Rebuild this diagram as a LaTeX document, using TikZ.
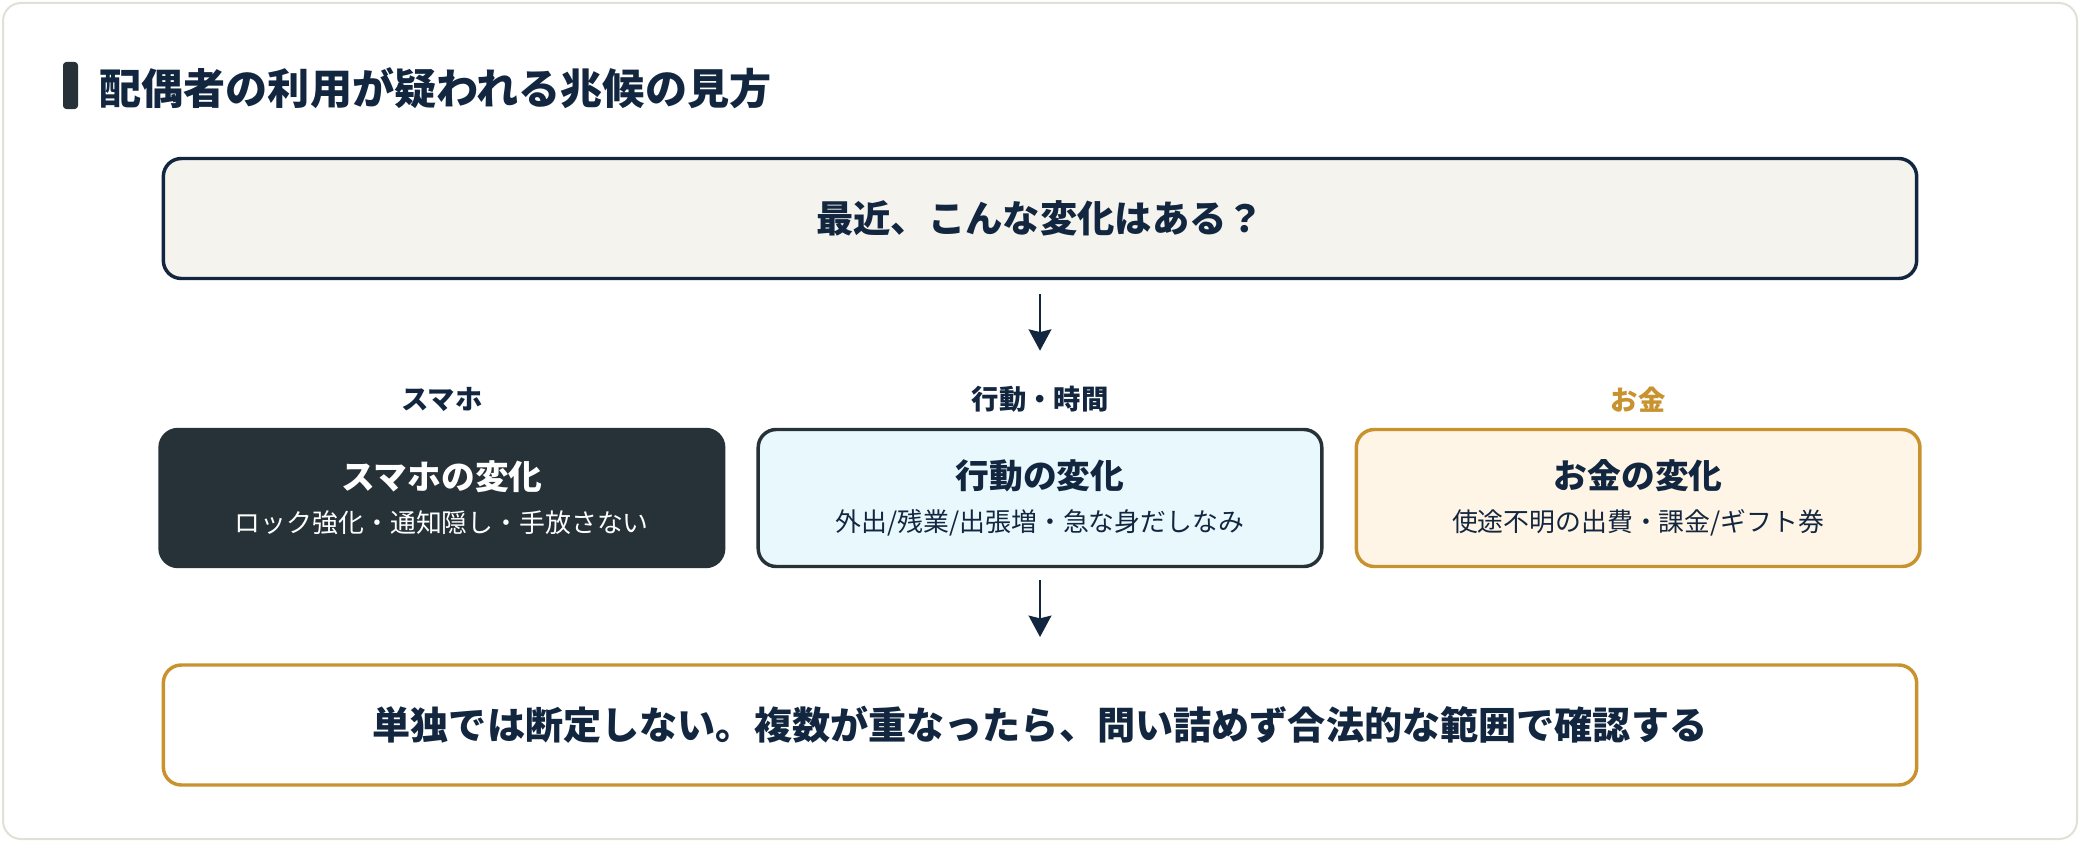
\documentclass[tikz,border=0pt]{standalone}
\usepackage{fontspec}
\setmainfont{Noto Sans CJK JP}
\usetikzlibrary{arrows.meta,positioning}

\definecolor{inkNavy}{HTML}{12263F}
\definecolor{slate}{HTML}{263238}
\definecolor{skyFill}{HTML}{E9F8FD}
\definecolor{creamFill}{HTML}{FFF5E6}
\definecolor{gold}{HTML}{C8922F}
\definecolor{paperFill}{HTML}{F5F3EE}
\definecolor{frameLine}{HTML}{E2E0D5}

\begin{document}
\begin{tikzpicture}[x=0.75pt,y=-0.75pt,>={Stealth[length=16pt,width=17pt,inset=2pt]},
                    semithick]
  \tikzstyle{card}=[rounded corners=13.5pt,line width=2.6pt,minimum width=1315pt,
                    minimum height=90pt,text=inkNavy,font=\fontsize{28pt}{33pt}\selectfont\bfseries]
  \tikzstyle{pane}=[rounded corners=13.5pt,line width=2.6pt,minimum width=422.7pt,
                    minimum height=102.75pt,align=center,text=inkNavy,
                    font=\fontsize{25.3pt}{30pt}\selectfont\bfseries]
  \tikzstyle{tag}=[inner sep=0pt,text=inkNavy,font=\fontsize{20.5pt}{24pt}\selectfont\bfseries]
  \tikzstyle{flow}=[->,line width=1.9pt,draw=inkNavy]

  \useasboundingbox (0,0) rectangle (2080,842);
  \draw[frameLine,fill=white,line width=1.5pt,rounded corners=13.5pt] (3,3) rectangle (2077,839);

  % heading
  \fill[slate,rounded corners=2.5pt] (63,62) rectangle (78,109);
  \node[anchor=west,inner sep=0pt,text=inkNavy,font=\fontsize{31.6pt}{38pt}\selectfont\bfseries]
       (heading) at (99,88) {配偶者の利用が疑われる兆候の見方};

  \node[card,fill=paperFill,draw=inkNavy] (ask) at (1040,218.5) {最近、こんな変化はある？};

  \node[pane,fill=skyFill,draw=slate] (act) at (1040,498)
       {行動の変化\\[2pt]{\fontsize{19.4pt}{24pt}\selectfont\mdseries 外出/残業/出張増・急な身だしなみ}};
  \node[pane,fill=slate,draw=slate,text=white,left=23.3pt of act] (phone)
       {スマホの変化\\[2pt]{\fontsize{19.4pt}{24pt}\selectfont\mdseries ロック強化・通知隠し・手放さない}};
  \node[pane,fill=creamFill,draw=gold,right=23.3pt of act] (money)
       {お金の変化\\[2pt]{\fontsize{19.4pt}{24pt}\selectfont\mdseries 使途不明の出費・課金/ギフト券}};

  \node[tag,above=11.5pt of phone] (tagPhone) {スマホ};
  \node[tag,above=11.5pt of act] (tagAct) {行動・時間};
  \node[tag,above=11.5pt of money,text=gold] (tagMoney) {お金};

  \node[card,fill=white,draw=gold,font=\fontsize{28.6pt}{34pt}\selectfont\bfseries] (verdict) at (1040,725)
       {単独では断定しない。複数が重なったら、問い詰めず合法的な範囲で確認する};

  \draw[flow,shorten <=10.3pt,shorten >=26pt] (ask) -- (tagAct);
  \draw[flow,shorten <=8.8pt,shorten >=19.7pt] (act) -- (verdict);
\end{tikzpicture}
\end{document}
